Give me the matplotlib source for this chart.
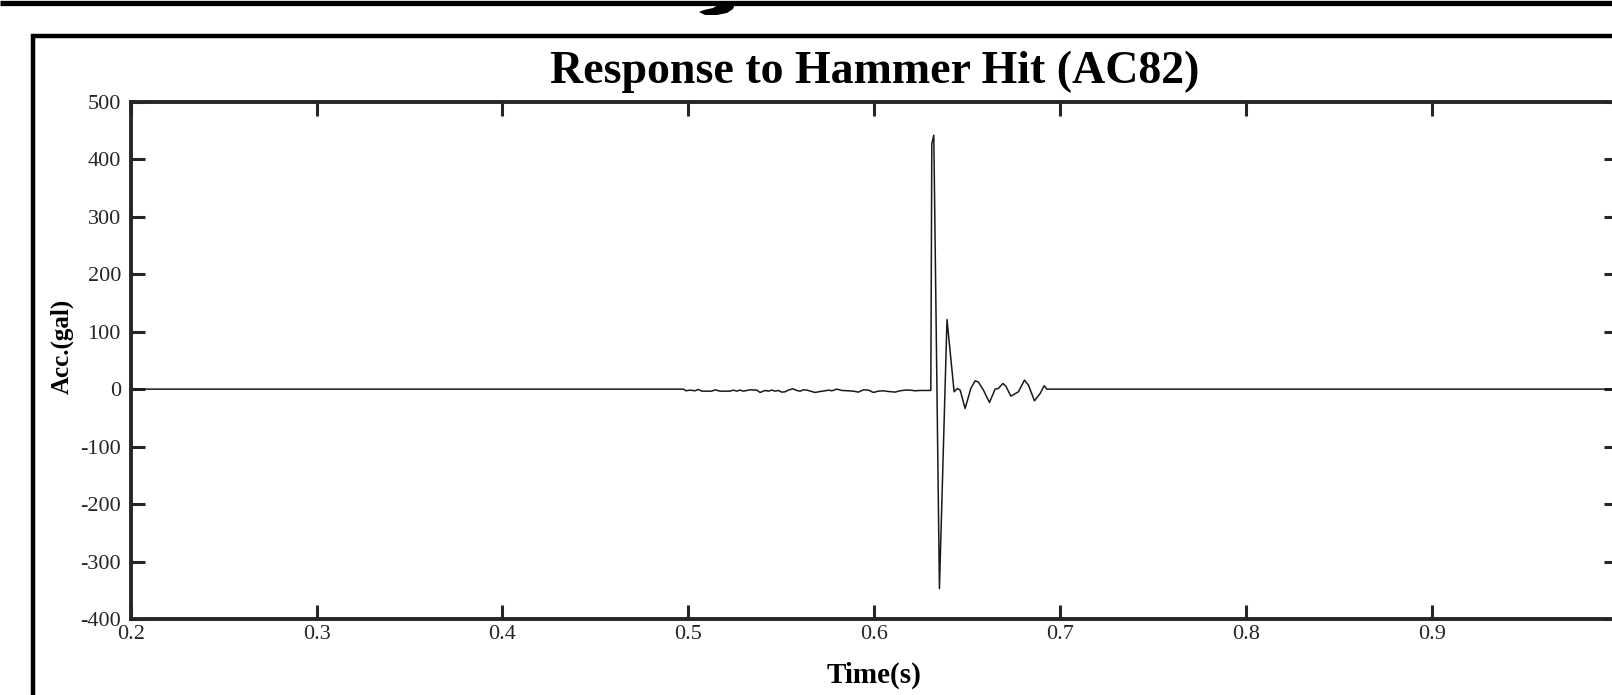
import matplotlib.pyplot as plt
from matplotlib.lines import Line2D
from matplotlib.patches import Polygon
from matplotlib.transforms import IdentityTransform

plt.rcParams['font.family'] = ['Liberation Serif', 'DejaVu Serif']
plt.rcParams['axes.unicode_minus'] = False

# ---------- data ----------
# quiet part before the hit (small noise)
t_noise = [0.2, 0.49733, 0.49876, 0.50091, 0.50360, 0.50538, 0.50721, 0.51259, 0.51436,
           0.51705, 0.52243, 0.52421, 0.52604, 0.52781, 0.52959, 0.53319, 0.53680,
           0.53857, 0.54126, 0.54304, 0.54486, 0.54664, 0.54841, 0.55024, 0.55202,
           0.55379, 0.55616, 0.55831, 0.56008, 0.56186, 0.56369, 0.56815, 0.57084,
           0.57353, 0.57531, 0.57714, 0.57983, 0.58252, 0.58607, 0.58876, 0.59145,
           0.59414, 0.59683, 0.59952, 0.60220, 0.60489, 0.60758, 0.61118, 0.61387,
           0.61656, 0.61925, 0.62194, 0.62463, 0.62732, 0.62964]
a_noise = [0, 0, -2.9, -1.7, -2.9, -0.6, -3.5, -3.5, -1.2,
           -3.5, -3.5, -1.7, -3.5, -1.7, -3.5, -1.2, -1.7,
           -5.8, -2.3, -3.5, -1.7, -3.5, -2.3, -5.2, -4.6,
           -1.7, 0.6, -2.3, -3.5, -1.2, -1.7, -5.8, -4.1,
           -2.9, -1.7, -2.9, 0.0, -2.3, -2.9, -3.5, -5.2,
           -1.2, -1.7, -5.8, -3.5, -2.9, -4.1, -5.2, -2.9,
           -1.7, -1.7, -2.9, -2.3, -2.3, -2.3]

# hammer impulse and ringing
t_hit = [0.63040, 0.63093, 0.63200, 0.63503, 0.63910, 0.64293, 0.64472, 0.64617,
         0.64885, 0.65192, 0.65424, 0.65601, 0.65870, 0.66193, 0.66500, 0.66677,
         0.66914, 0.67075, 0.67344, 0.67753, 0.68076, 0.68291, 0.68614, 0.68921,
         0.69136, 0.69280, 1.0]
a_hit = [-2.3, 427, 442, -347, 121, -4.6, 1.2, -1.7,
         -33.6, 1.2, 14.5, 12.2, -1.7, -23.2, 0.0, 1.2,
         9.9, 5.2, -12.2, -4.6, 15.7, 7.0, -20.3, -7.5,
         5.8, 0.0, 0.0]

x_ticks = [0.2, 0.3, 0.4, 0.5, 0.6, 0.7, 0.8, 0.9, 1.0]
x_labels = ['0.2', '0.3', '0.4', '0.5', '0.6', '0.7', '0.8', '0.9', '']  # "1" falls off the crop
y_ticks = [-400, -300, -200, -100, 0, 100, 200, 300, 400, 500]

time = t_noise + t_hit
acc = a_noise + a_hit

# ---------- figure ----------
W, H = 1612, 695
fig = plt.figure(figsize=(W / 100, H / 100), dpi=100)
fig.patch.set_facecolor('white')

# axes placed in pixels (right edge falls just outside the picture, as in the crop)
left, right, top, bottom = 130.6, 1618.0, 101.8, 619.0
ax = fig.add_axes([left / W, 1 - bottom / H, (right - left) / W, (bottom - top) / H])

ax.plot(time, acc, color='#1a1a1a', lw=1.1)

ax.set_xlim(0.2, 1.0)
ax.set_ylim(-400, 500)
ax.set_xticks(x_ticks)
ax.set_xticklabels(x_labels)
ax.set_yticks(y_ticks)

for s in ax.spines.values():
    s.set_linewidth(2.8)
    s.set_color('#262626')
ax.tick_params(direction='in', length=10, width=2.2, color='#262626',
               top=True, right=True, labelsize=16, labelcolor='#262626')
ax.tick_params(axis='x', pad=4)
ax.tick_params(axis='y', pad=7)

ax.set_title('Response to Hammer Hit (AC82)', fontsize=33, fontweight='bold',
             y=(bottom - 80) / (bottom - top), va='center')
ax.set_xlabel('Time(s)', fontsize=21, fontweight='bold', va='center')
ax.xaxis.set_label_coords(0.5, (bottom - 675) / (bottom - top))
ax.set_ylabel('Acc.(gal)', fontsize=18, fontweight='bold', va='center')
ax.yaxis.set_label_coords((62 - left) / (right - left), (bottom - 346) / (bottom - top))

# ---------- surrounding frame bits from the cropped page ----------
px = IdentityTransform()
def pline(xs, ys, lw):
    fig.add_artist(Line2D(xs, [H - y for y in ys], transform=px, color='black',
                          lw=lw, solid_capstyle='butt'))

pline([0, W], [2.5, 2.5], 3.8)      # edge of panel above
pline([31, W], [36, 36], 3.2)       # outer frame top
pline([33, 33], [34, H], 3.2)       # outer frame left

blob = [(735, 4), (733, 9), (727, 13), (717, 15), (705, 15), (699, 12),
        (704, 10), (713, 8), (720, 4)]
fig.add_artist(Polygon([(x, H - y) for x, y in blob], closed=True, transform=px,
                       facecolor='black', edgecolor='none'))

fig.savefig('out.png', dpi=100)
